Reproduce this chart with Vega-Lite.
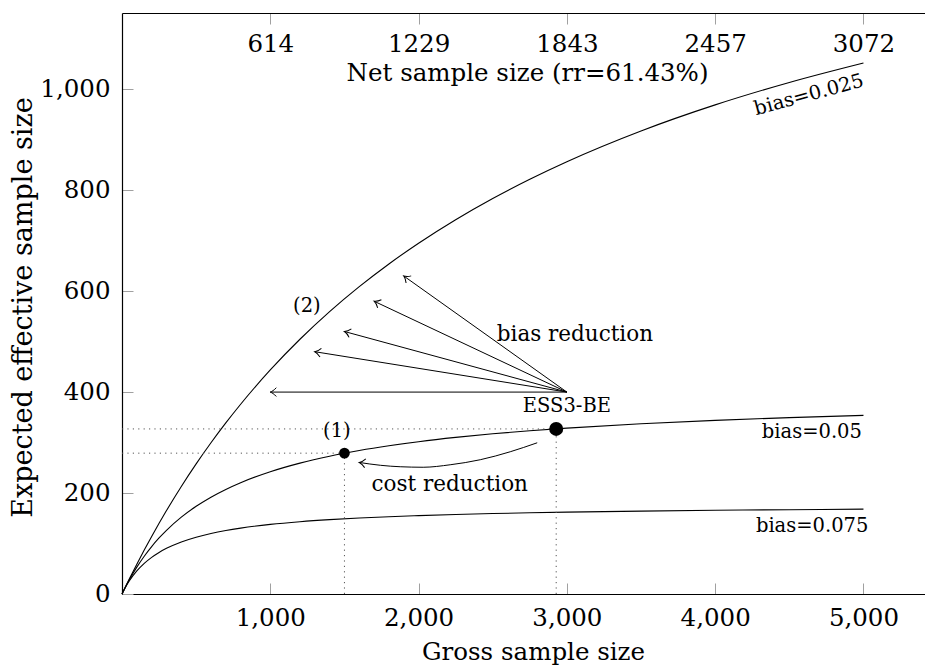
{
  "$schema": "https://vega.github.io/schema/vega-lite/v6.json",
  "width": 803,
  "height": 581,
  "autosize": {"type": "none"},
  "padding": {"left": 122, "top": 13, "right": 0, "bottom": 77},
  "background": "white",
  "config": {
    "view": {"stroke": null},
    "font": "DejaVu Serif",
    "text": {"font": "DejaVu Serif"},
    "axis": {
      "grid": false,
      "labelFont": "DejaVu Serif",
      "labelFontSize": 24.5,
      "labelColor": "#000",
      "tickColor": "#a0a0a0",
      "tickSize": -11,
      "tickWidth": 1,
      "domainColor": "#000",
      "domainWidth": 1.2,
      "titleFont": "DejaVu Serif",
      "titleFontWeight": "normal",
      "titleColor": "#000",
      "labelFlush": false,
      "labelOverlap": false
    }
  },
  "datasets": {
    "curves": [
      {"n": 0, "ess": 0, "bias": "0.025"},
      {"n": 20, "ess": 12.19, "bias": "0.025"},
      {"n": 50, "ess": 30.14, "bias": "0.025"},
      {"n": 100, "ess": 59.16, "bias": "0.025"},
      {"n": 150, "ess": 87.13, "bias": "0.025"},
      {"n": 200, "ess": 114.10, "bias": "0.025"},
      {"n": 250, "ess": 140.12, "bias": "0.025"},
      {"n": 300, "ess": 165.26, "bias": "0.025"},
      {"n": 400, "ess": 213.01, "bias": "0.025"},
      {"n": 500, "ess": 257.68, "bias": "0.025"},
      {"n": 600, "ess": 299.57, "bias": "0.025"},
      {"n": 700, "ess": 338.92, "bias": "0.025"},
      {"n": 800, "ess": 375.96, "bias": "0.025"},
      {"n": 1000, "ess": 443.88, "bias": "0.025"},
      {"n": 1200, "ess": 504.65, "bias": "0.025"},
      {"n": 1400, "ess": 559.36, "bias": "0.025"},
      {"n": 1600, "ess": 608.86, "bias": "0.025"},
      {"n": 1800, "ess": 653.86, "bias": "0.025"},
      {"n": 2000, "ess": 694.96, "bias": "0.025"},
      {"n": 2250, "ess": 741.56, "bias": "0.025"},
      {"n": 2500, "ess": 783.61, "bias": "0.025"},
      {"n": 2750, "ess": 821.72, "bias": "0.025"},
      {"n": 3000, "ess": 856.44, "bias": "0.025"},
      {"n": 3500, "ess": 917.34, "bias": "0.025"},
      {"n": 4000, "ess": 969.02, "bias": "0.025"},
      {"n": 4500, "ess": 1013.43, "bias": "0.025"},
      {"n": 5000, "ess": 1052.00, "bias": "0.025"},
      {"n": 0, "ess": 0, "bias": "0.05"},
      {"n": 20, "ess": 11.92, "bias": "0.05"},
      {"n": 50, "ess": 28.52, "bias": "0.05"},
      {"n": 100, "ess": 53.25, "bias": "0.05"},
      {"n": 150, "ess": 74.89, "bias": "0.05"},
      {"n": 200, "ess": 93.99, "bias": "0.05"},
      {"n": 250, "ess": 110.97, "bias": "0.05"},
      {"n": 300, "ess": 126.16, "bias": "0.05"},
      {"n": 400, "ess": 152.22, "bias": "0.05"},
      {"n": 500, "ess": 173.74, "bias": "0.05"},
      {"n": 600, "ess": 191.82, "bias": "0.05"},
      {"n": 700, "ess": 207.23, "bias": "0.05"},
      {"n": 800, "ess": 220.52, "bias": "0.05"},
      {"n": 1000, "ess": 242.25, "bias": "0.05"},
      {"n": 1200, "ess": 259.30, "bias": "0.05"},
      {"n": 1400, "ess": 273.02, "bias": "0.05"},
      {"n": 1600, "ess": 284.30, "bias": "0.05"},
      {"n": 1800, "ess": 293.74, "bias": "0.05"},
      {"n": 2000, "ess": 301.76, "bias": "0.05"},
      {"n": 2250, "ess": 310.22, "bias": "0.05"},
      {"n": 2500, "ess": 317.34, "bias": "0.05"},
      {"n": 2750, "ess": 323.42, "bias": "0.05"},
      {"n": 3000, "ess": 328.66, "bias": "0.05"},
      {"n": 3500, "ess": 337.26, "bias": "0.05"},
      {"n": 4000, "ess": 344.00, "bias": "0.05"},
      {"n": 4500, "ess": 349.44, "bias": "0.05"},
      {"n": 5000, "ess": 353.91, "bias": "0.05"},
      {"n": 0, "ess": 0, "bias": "0.075"},
      {"n": 20, "ess": 11.49, "bias": "0.075"},
      {"n": 50, "ess": 26.19, "bias": "0.075"},
      {"n": 100, "ess": 45.65, "bias": "0.075"},
      {"n": 150, "ess": 60.69, "bias": "0.075"},
      {"n": 200, "ess": 72.65, "bias": "0.075"},
      {"n": 250, "ess": 82.40, "bias": "0.075"},
      {"n": 300, "ess": 90.49, "bias": "0.075"},
      {"n": 400, "ess": 103.15, "bias": "0.075"},
      {"n": 500, "ess": 112.60, "bias": "0.075"},
      {"n": 600, "ess": 119.93, "bias": "0.075"},
      {"n": 700, "ess": 125.78, "bias": "0.075"},
      {"n": 800, "ess": 130.55, "bias": "0.075"},
      {"n": 1000, "ess": 137.88, "bias": "0.075"},
      {"n": 1200, "ess": 143.23, "bias": "0.075"},
      {"n": 1400, "ess": 147.32, "bias": "0.075"},
      {"n": 1600, "ess": 150.55, "bias": "0.075"},
      {"n": 1800, "ess": 153.15, "bias": "0.075"},
      {"n": 2000, "ess": 155.31, "bias": "0.075"},
      {"n": 2250, "ess": 157.52, "bias": "0.075"},
      {"n": 2500, "ess": 159.33, "bias": "0.075"},
      {"n": 2750, "ess": 160.85, "bias": "0.075"},
      {"n": 3000, "ess": 162.14, "bias": "0.075"},
      {"n": 3500, "ess": 164.20, "bias": "0.075"},
      {"n": 4000, "ess": 165.78, "bias": "0.075"},
      {"n": 4500, "ess": 167.03, "bias": "0.075"},
      {"n": 5000, "ess": 168.05, "bias": "0.075"}
    ],
    "guides": [
      {"x": 0, "y": 279, "x2": 1500, "y2": 279},
      {"x": 0, "y": 327, "x2": 2928, "y2": 327},
      {"x": 1500, "y": 0, "x2": 1500, "y2": 279},
      {"x": 2928, "y": 0, "x2": 2928, "y2": 327}
    ],
    "arrows": [
      {"kind": "bias", "x0": 3000, "y0": 400, "x1": 1000, "y1": 400},
      {"kind": "bias", "x0": 3000, "y0": 400, "x1": 1300, "y1": 480},
      {"kind": "bias", "x0": 3000, "y0": 400, "x1": 1500, "y1": 520},
      {"kind": "bias", "x0": 3000, "y0": 400, "x1": 1700, "y1": 580},
      {"kind": "bias", "x0": 3000, "y0": 400, "x1": 1900, "y1": 630},
      {"kind": "cost", "x0": 1742, "y0": 255, "x1": 1600, "y1": 260.6}
    ],
    "cost": [
      {"x": 2800, "y": 299.6},
      {"x": 2618, "y": 281.8},
      {"x": 2416, "y": 266},
      {"x": 2213, "y": 256},
      {"x": 2031, "y": 251.1},
      {"x": 1876, "y": 252.1},
      {"x": 1742, "y": 255},
      {"x": 1600, "y": 260.6}
    ],
    "points": [
      {"name": "(1)", "n": 1500, "ess": 279},
      {"name": "ESS3-BE", "n": 2928, "ess": 327}
    ],
    "labels": [
      {"label": "(1)", "x": 1449, "y": 323, "grp": "small"},
      {"label": "ESS3-BE", "x": 3000, "y": 372, "grp": "small"},
      {"label": "(2)", "x": 1247, "y": 570, "grp": "small"},
      {"label": "bias=0.05", "x": 4652, "y": 320, "grp": "small"},
      {"label": "bias=0.075", "x": 4654, "y": 135, "grp": "small"},
      {"label": "bias reduction", "x": 3054, "y": 514, "grp": "large"},
      {"label": "cost reduction", "x": 2210, "y": 215, "grp": "large"},
      {"label": "bias=0.025", "x": 4632, "y": 989, "grp": "rot"}
    ]
  },
  "layer": [
    {
      "data": {"name": "curves"},
      "mark": {"type": "line", "stroke": "#000", "strokeWidth": 1.1, "interpolate": "monotone"},
      "encoding": {
        "x": {"field": "n", "type": "quantitative", "scale": {"domain": [0, 5415], "nice": false},
          "axis": {"orient": "bottom", "values": [1000, 2000, 3000, 4000, 5000], "format": ",d", "title": "Gross sample size",
            "labelBaseline": "alphabetic", "labelPadding": 42, "titleFontSize": 24.5,
            "titleX": 411, "titleY": 58, "titleBaseline": "middle", "titleAlign": "center"}},
        "y": {"field": "ess", "type": "quantitative", "scale": {"domain": [0, 1151], "nice": false},
          "axis": {"orient": "left", "values": [0, 200, 400, 600, 800, 1000], "format": ",d", "title": "Expected effective sample size",
            "labelPadding": 23, "titleFontSize": 27, "titleX": -99, "titleY": 294, "titleBaseline": "middle", "titleAlign": "center", "titleAngle": 270}},
        "detail": {"field": "bias", "type": "nominal"}
      }
    },
    {
      "data": {"name": "guides"},
      "mark": {"type": "rule", "stroke": "#555", "strokeWidth": 1, "strokeDash": [1.2, 4.2]},
      "encoding": {
        "x": {"field": "x", "type": "quantitative", "scale": {"domain": [0, 5415], "nice": false},
          "axis": {"orient": "top", "values": [1000, 2000, 3000, 4000, 5000],
            "labelExpr": "datum.value === 1000 ? '614' : datum.value === 2000 ? '1229' : datum.value === 3000 ? '1843' : datum.value === 4000 ? '2457' : '3072'",
            "title": "Net sample size (rr=61.43%)", "labelBaseline": "alphabetic", "labelPadding": -27.7,
            "titleFontSize": 24.5, "titleX": 405, "titleY": 67, "titleBaseline": "alphabetic", "titleAlign": "center"}},
        "y": {"field": "y", "type": "quantitative", "scale": {"domain": [0, 1151], "nice": false}, "axis": null},
        "x2": {"field": "x2"},
        "y2": {"field": "y2"}
      }
    },
    {
      "data": {"name": "arrows"},
      "transform": [{"filter": "datum.kind === 'bias'"}],
      "mark": {"type": "rule", "stroke": "#000", "strokeWidth": 1},
      "encoding": {
        "x": {"field": "x0", "type": "quantitative", "scale": {"domain": [0, 5415], "nice": false}, "axis": null},
        "y": {"field": "y0", "type": "quantitative", "scale": {"domain": [0, 1151], "nice": false}, "axis": null},
        "x2": {"field": "x1"},
        "y2": {"field": "y1"}
      }
    },
    {
      "data": {"name": "cost"},
      "mark": {"type": "line", "stroke": "#000", "strokeWidth": 1, "interpolate": "monotone"},
      "encoding": {
        "x": {"field": "x", "type": "quantitative", "scale": {"domain": [0, 5415], "nice": false}, "axis": null},
        "y": {"field": "y", "type": "quantitative", "scale": {"domain": [0, 1151], "nice": false}, "axis": null}
      }
    },
    {
      "data": {"name": "arrows"},
      "transform": [{"calculate": "atan2(-(datum.y1 - datum.y0) * 0.50478, (datum.x1 - datum.x0) * 0.14829) * 180 / PI", "as": "ang"}],
      "mark": {"type": "point", "shape": "M -1.5 -1.1 C -1 -0.5 -0.35 -0.12 0 0 C -0.35 0.12 -1 0.5 -1.5 1.1", "filled": false, "stroke": "#000", "strokeWidth": 1, "size": 64, "opacity": 1},
      "encoding": {
        "x": {"field": "x1", "type": "quantitative", "scale": {"domain": [0, 5415], "nice": false}, "axis": null},
        "y": {"field": "y1", "type": "quantitative", "scale": {"domain": [0, 1151], "nice": false}, "axis": null},
        "angle": {"field": "ang", "type": "quantitative", "scale": null}
      }
    },
    {
      "data": {"name": "points"},
      "mark": {"type": "circle", "color": "#000", "opacity": 1},
      "encoding": {
        "x": {"field": "n", "type": "quantitative", "scale": {"domain": [0, 5415], "nice": false}, "axis": null},
        "y": {"field": "ess", "type": "quantitative", "scale": {"domain": [0, 1151], "nice": false}, "axis": null},
        "size": {"field": "name", "type": "ordinal", "scale": {"domain": ["(1)", "ESS3-BE"], "range": [115, 195]}, "legend": null}
      }
    },
    {
      "data": {"name": "labels"},
      "transform": [{"filter": "datum.grp === 'small'"}],
      "mark": {"type": "text", "font": "DejaVu Serif", "fontSize": 19.5, "color": "#000", "align": "center", "baseline": "middle"},
      "encoding": {
        "x": {"field": "x", "type": "quantitative", "scale": {"domain": [0, 5415], "nice": false}, "axis": null},
        "y": {"field": "y", "type": "quantitative", "scale": {"domain": [0, 1151], "nice": false}, "axis": null},
        "text": {"field": "label"}
      }
    },
    {
      "data": {"name": "labels"},
      "transform": [{"filter": "datum.grp === 'large'"}],
      "mark": {"type": "text", "font": "DejaVu Serif", "fontSize": 21.5, "color": "#000", "align": "center", "baseline": "middle"},
      "encoding": {
        "x": {"field": "x", "type": "quantitative", "scale": {"domain": [0, 5415], "nice": false}, "axis": null},
        "y": {"field": "y", "type": "quantitative", "scale": {"domain": [0, 1151], "nice": false}, "axis": null},
        "text": {"field": "label"}
      }
    },
    {
      "data": {"name": "labels"},
      "transform": [{"filter": "datum.grp === 'rot'"}],
      "mark": {"type": "text", "font": "DejaVu Serif", "fontSize": 19.5, "color": "#000", "align": "center", "baseline": "middle", "angle": 345},
      "encoding": {
        "x": {"field": "x", "type": "quantitative", "scale": {"domain": [0, 5415], "nice": false}, "axis": null},
        "y": {"field": "y", "type": "quantitative", "scale": {"domain": [0, 1151], "nice": false}, "axis": null},
        "text": {"field": "label"}
      }
    }
  ],
  "resolve": {"axis": {"x": "independent", "y": "independent"}}
}
